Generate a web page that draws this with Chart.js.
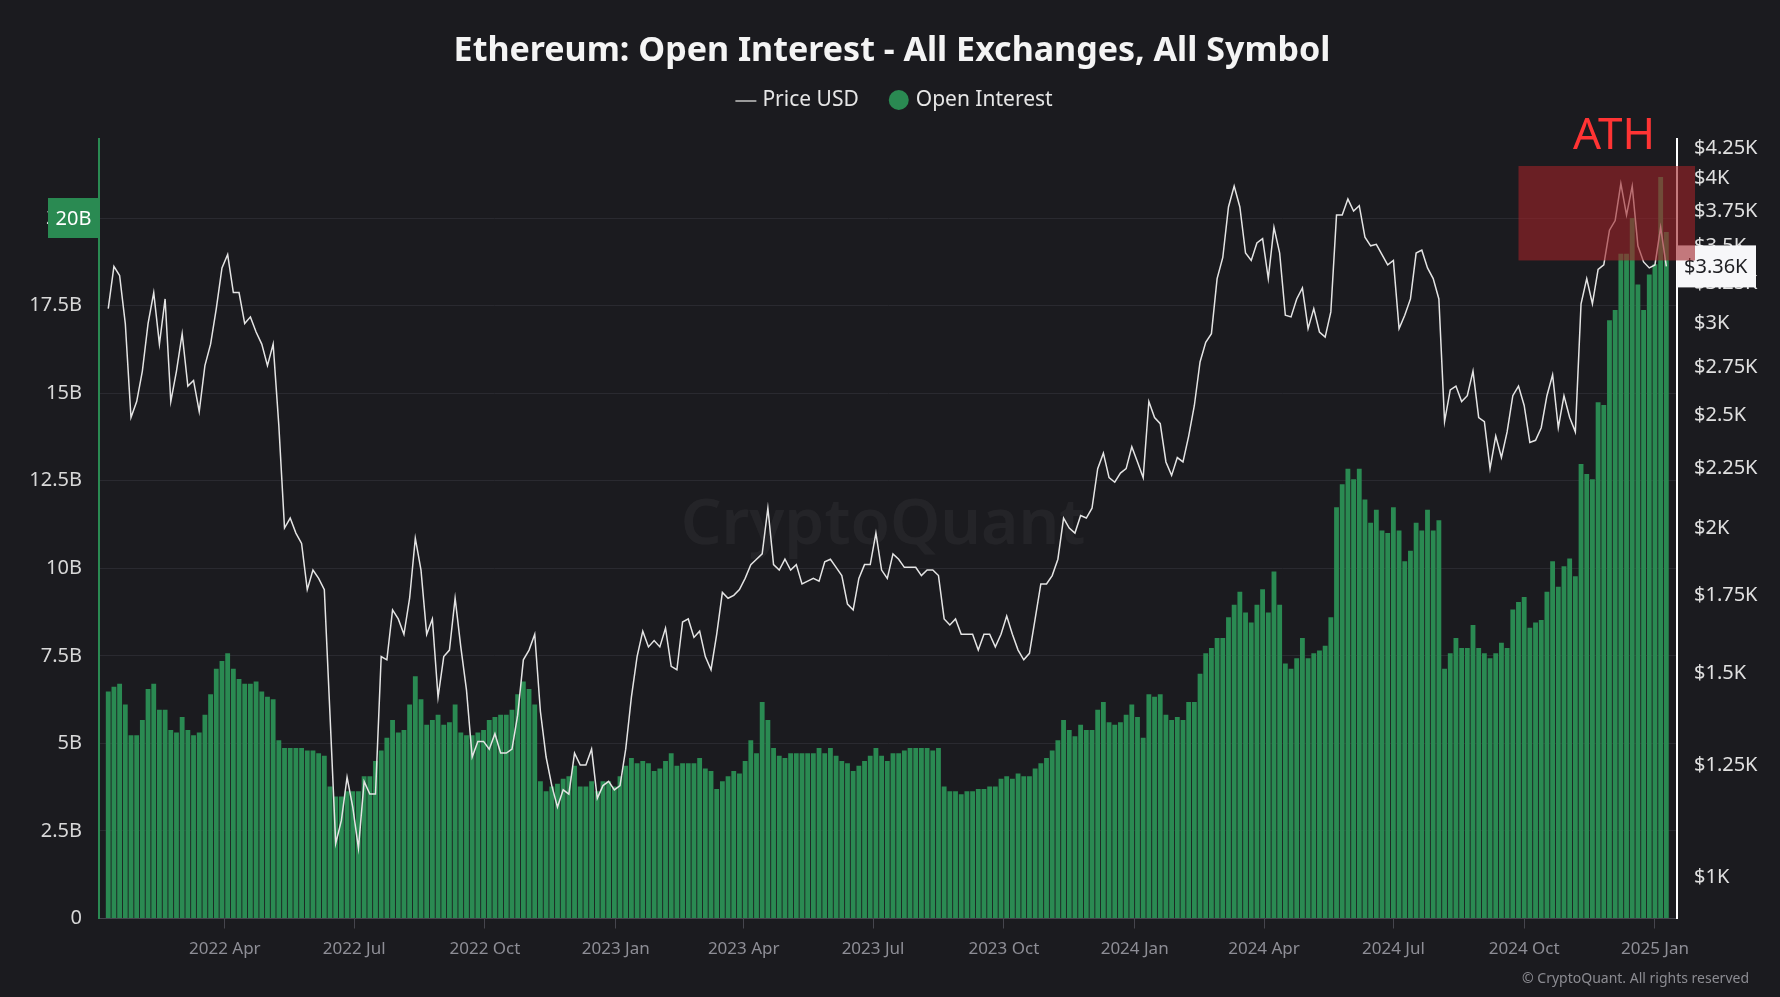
<!DOCTYPE html>
<html>
<head>
<meta charset="utf-8">
<title>Ethereum: Open Interest - All Exchanges, All Symbol</title>
<script src="https://cdn.jsdelivr.net/npm/chart.js@4.4.1/dist/chart.umd.min.js"></script>
<style>
  html, body { margin: 0; padding: 0; background: #1b1b1f; }
</style>
</head>
<body>
<canvas id="myChart" width="1780" height="997"></canvas>
<script>
// one sample every 4 days starting at startDate
const startDate = "2022-01-09";
const stepDays = 4;

// ETH price, USD
const priceUsd = [
  3090, 3360, 3300, 3000, 2490, 2570, 2730, 3000, 3190, 2880,
  3150, 2570, 2730, 2940, 2650, 2680, 2520, 2760, 2880, 3090,
  3350, 3440, 3190, 3190, 3000, 3040, 2950, 2880, 2760, 2880,
  2450, 2000, 2040, 1980, 1940, 1770, 1840, 1810, 1770, 1380,
  1070, 1120, 1220, 1150, 1060, 1210, 1180, 1180, 1550, 1540,
  1700, 1670, 1620, 1740, 1960, 1840, 1620, 1670, 1430, 1550,
  1570, 1740, 1580, 1450, 1270, 1310, 1310, 1290, 1330, 1280,
  1280, 1290, 1380, 1540, 1570, 1620, 1390, 1270, 1200, 1150,
  1190, 1180, 1280, 1250, 1250, 1290, 1170, 1200, 1210, 1190,
  1200, 1290, 1430, 1550, 1630, 1580, 1600, 1580, 1640, 1520,
  1510, 1660, 1670, 1610, 1630, 1550, 1510, 1620, 1760, 1740,
  1750, 1770, 1810, 1860, 1880, 1900, 2080, 1860, 1840, 1880,
  1840, 1860, 1790, 1800, 1810, 1800, 1870, 1880, 1850, 1820,
  1720, 1700, 1810, 1860, 1860, 1980, 1840, 1810, 1900, 1880,
  1850, 1850, 1850, 1820, 1840, 1840, 1820, 1670, 1650, 1670,
  1620, 1620, 1620, 1570, 1620, 1620, 1580, 1620, 1680, 1620,
  1570, 1540, 1560, 1670, 1790, 1790, 1820, 1880, 2040, 2000,
  1980, 2050, 2040, 2080, 2250, 2320, 2210, 2190, 2230, 2250,
  2350, 2280, 2210, 2570, 2490, 2460, 2280, 2220, 2300, 2280,
  2400, 2550, 2780, 2890, 2940, 3280, 3420, 3780, 3940, 3780,
  3450, 3400, 3520, 3550, 3280, 3630, 3450, 3050, 3040, 3150,
  3220, 2970, 3090, 2950, 2920, 3070, 3720, 3720, 3840, 3750,
  3790, 3560, 3500, 3510, 3440, 3370, 3400, 2970, 3050, 3150,
  3450, 3470, 3350, 3280, 3150, 2470, 2630, 2650, 2570, 2600,
  2730, 2490, 2470, 2250, 2400, 2300, 2420, 2600, 2650, 2550,
  2370, 2380, 2440, 2600, 2710, 2440, 2600, 2490, 2420, 3120,
  3280, 3120, 3340, 3370, 3610, 3680, 3960, 3720, 3940, 3500,
  3390, 3350, 3370, 3630, 3360
];

// open interest, billions USD
const openInterest = [
  6.48, 6.62, 6.70, 6.11, 5.23, 5.23, 5.67, 6.55, 6.70, 5.96,
  5.96, 5.38, 5.31, 5.75, 5.38, 5.23, 5.31, 5.82, 6.40, 7.13,
  7.35, 7.57, 7.13, 6.84, 6.70, 6.70, 6.77, 6.48, 6.33, 6.26,
  5.09, 4.87, 4.87, 4.87, 4.87, 4.80, 4.80, 4.72, 4.65, 3.77,
  3.48, 3.48, 3.63, 3.63, 3.63, 4.06, 4.06, 4.50, 4.80, 5.16,
  5.67, 5.31, 5.38, 6.11, 6.92, 6.26, 5.53, 5.67, 5.82, 5.53,
  5.60, 6.11, 5.31, 5.23, 5.23, 5.31, 5.38, 5.67, 5.75, 5.82,
  5.82, 5.96, 6.40, 6.77, 6.55, 6.11, 3.92, 3.63, 3.77, 3.85,
  3.99, 4.06, 4.36, 3.77, 3.77, 3.92, 3.63, 3.92, 3.92, 3.77,
  4.06, 4.36, 4.58, 4.43, 4.50, 4.43, 4.21, 4.28, 4.50, 4.72,
  4.36, 4.43, 4.43, 4.43, 4.58, 4.28, 4.21, 3.70, 3.92, 4.06,
  4.21, 4.14, 4.50, 5.09, 4.72, 6.18, 5.67, 4.87, 4.65, 4.58,
  4.72, 4.72, 4.72, 4.72, 4.72, 4.87, 4.72, 4.87, 4.65, 4.50,
  4.43, 4.21, 4.36, 4.50, 4.65, 4.87, 4.65, 4.50, 4.72, 4.72,
  4.80, 4.87, 4.87, 4.87, 4.87, 4.80, 4.87, 3.77, 3.63, 3.63,
  3.55, 3.63, 3.63, 3.70, 3.70, 3.77, 3.77, 3.99, 4.06, 3.99,
  4.14, 4.06, 4.06, 4.28, 4.43, 4.58, 4.80, 5.09, 5.67, 5.38,
  5.20, 5.53, 5.38, 5.38, 5.96, 6.18, 5.60, 5.53, 5.60, 5.82,
  6.11, 5.75, 5.16, 6.40, 6.33, 6.40, 5.82, 5.67, 5.75, 5.67,
  6.18, 6.18, 6.99, 7.57, 7.72, 8.01, 8.01, 8.60, 8.96, 9.33,
  8.74, 8.45, 8.96, 9.40, 8.74, 9.91, 8.96, 7.28, 7.13, 7.43,
  8.01, 7.43, 7.57, 7.65, 7.79, 8.60, 11.74, 12.40, 12.84, 12.54,
  12.84, 11.96, 11.30, 11.67, 11.08, 11.01, 11.74, 11.08, 10.20, 10.50,
  11.30, 11.08, 11.67, 11.08, 11.37, 7.13, 7.57, 8.01, 7.72, 7.72,
  8.38, 7.72, 7.57, 7.43, 7.57, 7.87, 7.72, 8.82, 9.04, 9.18,
  8.30, 8.45, 8.52, 9.33, 10.20, 9.47, 10.06, 10.28, 9.77, 12.98,
  12.69, 12.54, 14.74, 14.66, 17.08, 17.37, 18.98, 18.98, 20.00, 18.10,
  17.37, 18.39, 18.68, 21.17, 19.60
];

const oiTicks = [0, 2.5, 5, 7.5, 10, 12.5, 15, 17.5, 20];
const priceTicks = [1000, 1250, 1500, 1750, 2000, 2250, 2500, 2750, 3000, 3250, 3500, 3750, 4000, 4250];
const dateTicks = ["2022-04-01", "2022-07-01", "2022-10-01", "2023-01-01", "2023-04-01", "2023-07-01",
  "2023-10-01", "2024-01-01", "2024-04-01", "2024-07-01", "2024-10-01", "2025-01-01"];
const dateTickLabels = ["2022 Apr", "2022 Jul", "2022 Oct", "2023 Jan", "2023 Apr", "2023 Jul",
  "2023 Oct", "2024 Jan", "2024 Apr", "2024 Jul", "2024 Oct", "2025 Jan"];

// ATH zone annotation
const athFrom = "2024-09-27";
const athLow = 3400;
const athHigh = 4100;

const GREEN = "#2a8a52";
const BG = "#1b1b1f";
const FONT = '"Noto Sans", sans-serif';

const dayZero = Date.UTC(2022, 0, 1);
const toDay = (s) => (Date.parse(s) - dayZero) / 864e5;
const firstDay = toDay(startDate);
const xDays = priceUsd.map((_, i) => firstDay + i * stepDays);

Chart.defaults.font.family = FONT;

const decor = {
  id: "decor",
  beforeDraw(chart) {
    const c = chart.ctx;
    c.save();
    c.fillStyle = BG;
    c.fillRect(0, 0, chart.width, chart.height);
    c.restore();
  },
  beforeDatasetsDraw(chart) {
    const c = chart.ctx;
    c.save();
    c.font = "600 64px " + FONT;
    c.fillStyle = "rgba(255,255,255,0.045)";
    c.textAlign = "center";
    c.textBaseline = "middle";
    c.fillText("CryptoQuant", 883, 526);
    c.restore();
  },
  afterDraw(chart) {
    const c = chart.ctx;
    const area = chart.chartArea;
    const yP = chart.scales.yPrice;
    const yO = chart.scales.yOI;
    const xS = chart.scales.x;
    c.save();

    // title
    c.fillStyle = "#f4f4f4";
    c.font = "bold 34px " + FONT;
    c.textAlign = "center";
    c.textBaseline = "middle";
    c.fillText("Ethereum: Open Interest - All Exchanges, All Symbol", 892, 51);

    // legend
    c.font = "21px " + FONT;
    c.textAlign = "left";
    const t1 = "Price USD", t2 = "Open Interest";
    const w1 = 21 + 6 + c.measureText(t1).width;
    const w2 = 20 + 7 + c.measureText(t2).width;
    let lx = 894 - (w1 + 30 + w2) / 2;
    const ly = 100;
    c.strokeStyle = "#9a9a9a";
    c.lineWidth = 2;
    c.beginPath();
    c.moveTo(lx, ly + 1);
    c.lineTo(lx + 21, ly + 1);
    c.stroke();
    c.fillStyle = "#e6e6e6";
    c.fillText(t1, lx + 27, ly);
    lx += w1 + 30;
    c.fillStyle = GREEN;
    c.beginPath();
    c.arc(lx + 10, ly, 10, 0, Math.PI * 2);
    c.fill();
    c.fillStyle = "#e6e6e6";
    c.fillText(t2, lx + 27, ly);

    // last open interest marker on the left axis
    c.font = "20px " + FONT;
    const lastOi = openInterest[openInterest.length - 1];
    const oy = yO.getPixelForValue(Math.round(lastOi));
    c.fillStyle = GREEN;
    c.fillRect(48, oy - 20, area.left - 48, 40);
    c.fillStyle = "#ffffff";
    c.textAlign = "center";
    c.fillText(Math.round(lastOi) + "B", (48 + area.left) / 2, oy + 1);

    // last price marker on the right axis
    const lastPrice = priceUsd[priceUsd.length - 1];
    const py = yP.getPixelForValue(lastPrice);
    c.fillStyle = "#f7f7f9";
    c.fillRect(area.right, py - 21, 79, 42);
    c.fillStyle = "#1e1e22";
    c.textAlign = "left";
    c.fillText("$" + (lastPrice / 1000).toFixed(2) + "K", area.right + 7, py + 1);

    // ATH zone
    const bx = xS.getPixelForValue(toDay(athFrom));
    const by = yP.getPixelForValue(athHigh);
    const bb = yP.getPixelForValue(athLow);
    c.fillStyle = "rgba(160,35,40,0.6)";
    c.fillRect(bx, by, area.right + 18 - bx, bb - by);
    c.fillStyle = "#ff3434";
    c.font = "44px " + FONT;
    c.textAlign = "center";
    c.fillText("ATH", 1614, 136);

    // copyright
    c.fillStyle = "#8c8c92";
    c.font = "14px " + FONT;
    c.textAlign = "right";
    c.fillText("\u00a9 CryptoQuant. All rights reserved", 1749, 979);
    c.restore();
  }
};

const ctx = document.getElementById("myChart");

const myChart = new Chart(ctx, {
  type: "bar",
  data: {
    datasets: [
      {
        type: "line",
        label: "Price USD",
        data: xDays.map((x, i) => ({ x, y: priceUsd[i] })),
        yAxisID: "yPrice",
        borderColor: "#e4e4e4",
        borderWidth: 1.5,
        pointRadius: 0,
        tension: 0,
        order: 0,
      },
      {
        label: "Open Interest",
        data: xDays.map((x, i) => ({ x, y: openInterest[i] })),
        yAxisID: "yOI",
        backgroundColor: GREEN,
        borderWidth: 0,
        categoryPercentage: 0.85,
        barPercentage: 1,
        order: 1,
      },
    ],
  },
  options: {
    responsive: false,
    animation: false,
    events: [],
    layout: { padding: { top: 138.5, left: 0, right: 0, bottom: 0 } },
    plugins: {
      legend: { display: false },
      title: { display: false },
      tooltip: { enabled: false },
    },
    scales: {
      x: {
        type: "linear",
        min: 1.5,
        max: 1111.5,
        offset: false,
        afterBuildTicks: (s) => { s.ticks = dateTicks.map((d) => ({ value: toDay(d) })); },
        afterFit: (s) => { s.height = 78.5; },
        ticks: {
          autoSkip: false,
          maxRotation: 0,
          padding: 10,
          color: "#8e8e96",
          font: { size: 17 },
          callback: (v, i) => dateTickLabels[i],
        },
        grid: { offset: false, drawOnChartArea: false, drawTicks: true, tickLength: 10, color: "#45454d" },
        border: { color: "#45454d", width: 1 },
      },
      yOI: {
        type: "linear",
        position: "left",
        min: 0,
        max: 22.27,
        afterBuildTicks: (s) => { s.ticks = oiTicks.map((v) => ({ value: v })); },
        afterFit: (s) => { s.width = 99; },
        ticks: {
          autoSkip: false,
          padding: 17,
          color: "#d8d8d8",
          font: { size: 20 },
          callback: (v) => (v === 0 ? "0" : v + "B"),
        },
        grid: { color: "#2a2a30", drawTicks: false },
        border: { color: GREEN, width: 2 },
      },
      yPrice: {
        type: "logarithmic",
        position: "right",
        min: 922,
        max: 4330,
        afterBuildTicks: (s) => { s.ticks = priceTicks.map((v) => ({ value: v })); },
        afterFit: (s) => { s.width = 103; },
        ticks: {
          autoSkip: false,
          padding: 17,
          color: "#e0e0e0",
          font: { size: 20 },
          callback: (v) => "$" + v / 1000 + "K",
        },
        grid: { drawOnChartArea: false, drawTicks: false },
        border: { color: "#ffffff", width: 2 },
      },
    },
  },
  plugins: [decor],
});
</script>
</body>
</html>
